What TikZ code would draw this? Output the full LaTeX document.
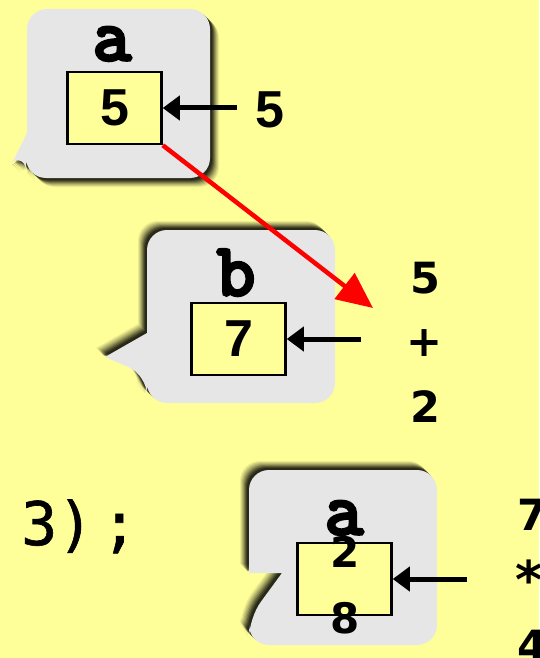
\documentclass[tikz,border=0pt]{standalone}
\usepackage{fontspec}
\usetikzlibrary{arrows.meta}
\newfontfamily\namefont[FakeBold=5]{Latin Modern Mono}
\newfontfamily\digitfont{Liberation Sans}
\newfontfamily\exprfont{DejaVu Sans}
\newfontfamily\codefont[FakeBold=1]{DejaVu Sans Mono}
\definecolor{paper}{HTML}{FFFF99}
\definecolor{cloud}{HTML}{E6E6E6}

\tikzset{
  varname/.style={inner sep=0pt, anchor=base, font=\namefont\fontsize{74}{74}\selectfont},
  expr/.style={inner sep=0pt, anchor=base, font=\exprfont\bfseries\fontsize{43}{43}\selectfont},
  cell/.style={draw=black, line width=2.5pt, fill=paper, minimum width=94pt, minimum height=72pt,
    inner sep=0pt, font=\digitfont\bfseries\fontsize{52}{52}\selectfont},
  assign/.style={line width=5pt, -{Triangle[length=17pt,width=24pt]}},
  move/.style={red, line width=4.5pt, -{Triangle[length=36pt,width=32pt]}},
  bubble/.style={fill=cloud},
}

% outlines of the three bubbles
\def\bubblea{(27,100) [rounded corners=20pt] -- (27,9) -- (210,9) -- (210,178) -- (26,178) -- (26,152)
  [sharp corners] -- (13,161) -- (27,133) -- cycle}
\def\bubbleb{(147,300) [rounded corners=20pt] -- (147,230) -- (335,230) -- (335,403) -- (147,403) -- (147,375)
  [sharp corners] -- (105,357) -- (147,333) -- cycle}
\def\bubblec{(249,520) [rounded corners=20pt] -- (249,470) -- (437,470) -- (437,645) -- (249,645) -- (249,618)
  [sharp corners] -- (282,573) -- (249,573) -- cycle}

\begin{document}
\begin{tikzpicture}[x=1pt, y=-1pt]
  % background
  \fill[paper] (0,0) rectangle (539,658);
  \useasboundingbox (0,0) rectangle (539,658);

  % shadows
  \foreach \d/\o in {9/0.08, 8/0.1, 7/0.12, 6/0.15, 5/0.2, 4/0.25, 3/0.3, 2/0.35} {
    \fill[black, opacity=\o, shift={(\d,\d)}] \bubblea;
    \fill[black, opacity=\o, shift={(-\d,-\d)}] \bubbleb;
    \fill[black, opacity=\o, shift={(-\d,-\d)}] \bubblec;
  }
  % bubbles
  \fill[bubble] \bubblea;
  \fill[bubble] \bubbleb;
  \fill[bubble] \bubblec;

  % variable a
  \node[varname] (na) at (112,60) {a};
  \node[cell] (va) at (114.5,108) {5};
  \node[expr, font=\digitfont\bfseries\fontsize{52}{52}\selectfont] (ra) at (270,128) {5};
  \coordinate (ta) at (237,108);
  \draw[assign] (ta) -- (va.east);

  % variable b
  \node[varname] (nb) at (236,295) {b};
  \node[cell] (vb) at (238.5,339) {7};
  \coordinate (tb) at (361,339);
  \draw[assign] (tb) -- (vb.east);
  \node[expr] (e1) at (425,293) {5};
  \node[expr, anchor=center] (e2) at (425,343) {+};
  \node[expr] (e3) at (425,422) {2};

  % call
  \node[inner sep=0pt, anchor=base west, font=\codefont\fontsize{60}{60}\selectfont] (call) at (21,545) {3)\kern8pt;};

  % variable a again
  \node[varname] (nc) at (344,534) {a};
  \node[cell] (vc) at (344.5,579) {};
  \node[expr, font=\exprfont\bfseries\fontsize{42}{42}\selectfont] (d1) at (345,567) {2};
  \node[expr, font=\exprfont\bfseries\fontsize{42}{42}\selectfont] (d2) at (345,633) {8};
  \coordinate (tc) at (467,579);
  \draw[assign] (tc) -- (vc.east);
  \node[expr, anchor=base west] (f1) at (517,530) {7};
  \node[expr, anchor=west, font=\exprfont\bfseries\fontsize{52}{52}\selectfont] (f2) at (515,579) {*};
  \node[expr, anchor=north west] (f3) at (517,630) {4};

  % value a goes to b
  \coordinate (tip) at (373,308);
  \draw[move] (va.south east) -- (tip);
\end{tikzpicture}
\end{document}
